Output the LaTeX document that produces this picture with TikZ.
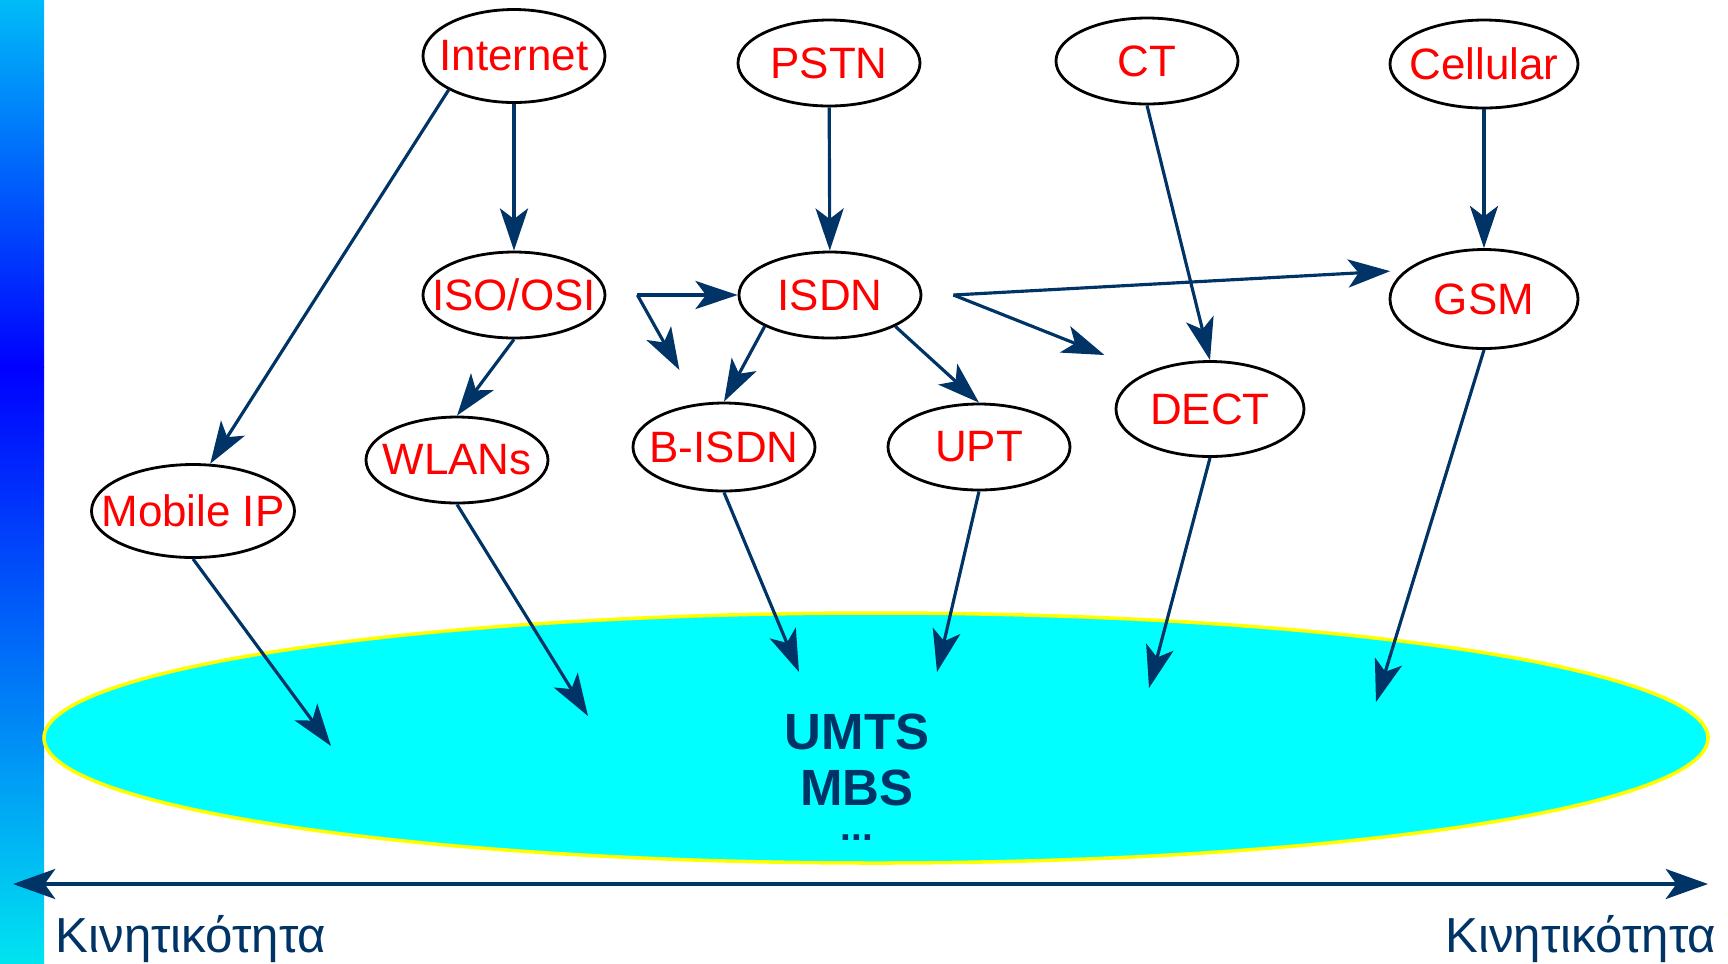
\documentclass[tikz,border=0pt]{standalone}
\usepackage{fontspec}
\setmainfont{Liberation Sans}
\usepackage{tikz}
\usetikzlibrary{arrows.meta}
\usetikzlibrary{positioning}
\usetikzlibrary{shapes.geometric}
\definecolor{navy}{RGB}{0,51,102}
\definecolor{bartop}{RGB}{0,188,248}
\definecolor{barbottom}{RGB}{0,228,240}
\definecolor{umtscyan}{RGB}{0,255,255}
\definecolor{umtsrim}{RGB}{255,255,0}
\tikzstyle{every node}+=[inner sep=0pt]
\tikzstyle{tech} = [ellipse, draw, thick, text=red, font=\fontsize{12.5}{14}\selectfont, inner xsep=-0.3cm, minimum width=1.82cm, minimum height=0.86cm]
\tikzstyle{line} = [draw, navy, line width=0.9pt, -{Stealth[length=12pt, width=8pt, inset=3pt]}]
\tikzstyle{umtstext} = [navy, align=center, font=\fontsize{14.5}{16}\selectfont\bfseries]
\tikzstyle{mobility} = [navy, font=\fontsize{14}{16}\selectfont]

\begin{document}
\begin{tikzpicture}
            \useasboundingbox (0,0) rectangle (17.28,-9.63);
            % Background bar and UMTS area
            \shade [top color=bartop, bottom color=blue] (0,0) rectangle (0.44,-3.67);
            \shade [top color=blue, bottom color=barbottom] (0,-3.67) rectangle (0.44,-9.63);
            \node [ellipse, draw=umtsrim, line width=1pt, fill=umtscyan, minimum width=16.64cm, minimum height=2.5cm] (umts) at (8.76,-7.38) {};
            \node [umtstext, anchor=north] (umtslbl) at (8.57,-7.13) {UMTS\\MBS\\[-6pt]{\fontsize{11}{12}\selectfont ...}};
            % Place nodes
            \node [tech, minimum height=0.93cm] (internet) at (5.14,-0.56) {Internet};
            \node [tech, right of=internet, node distance=3.15cm, yshift=-0.07cm] (pstn) {PSTN};
            \node [tech, right of=pstn, node distance=3.18cm, yshift=0.02cm] (ct) {CT};
            \node [tech, right of=ct, node distance=3.37cm, yshift=-0.03cm, minimum width=1.88cm, minimum height=0.88cm] (cellular) {Cellular};
            \node [tech, below of=internet, node distance=2.39cm] (isoosi) {ISO/OSI};
            \node [tech, right of=isoosi, node distance=3.16cm] (isdn) {ISDN};
            \node [tech, below of=cellular, node distance=2.35cm, minimum width=1.88cm, minimum height=0.99cm] (gsm) {GSM};
            \node [tech, below of=isoosi, node distance=1.65cm, xshift=-0.57cm] (wlans) {WLANs};
            \node [tech, left of=wlans, node distance=2.64cm, yshift=-0.51cm, minimum width=2.03cm, minimum height=0.93cm] (mobileip) {Mobile IP};
            \node [tech, below of=isdn, node distance=1.52cm, xshift=-1.06cm, minimum height=0.88cm] (bisdn) {B-ISDN};
            \node [tech, right of=bisdn, node distance=2.55cm] (upt) {UPT};
            \node [tech, below of=ct, node distance=3.48cm, xshift=0.63cm, minimum width=1.88cm, minimum height=0.95cm] (dect) {DECT};
            % Forks and free ends
            \coordinate [right=0.31cm of isoosi] (fork1);
            \coordinate [below right=0.75cm and 0.42cm of fork1] (tip1);
            \coordinate [right=0.31cm of isdn] (fork2);
            \coordinate [below right=0.6cm and 1.51cm of fork2] (tip2);
            \coordinate (m1) at (3.31,-7.46);
            \coordinate (m2) at (5.88,-7.16);
            \coordinate (m3) at (7.99,-6.72);
            \coordinate (m4) at (9.37,-6.72);
            \coordinate (m5) at (11.49,-6.88);
            \coordinate (m6) at (13.76,-7.02);
            % Draw edges
            \path [line] (internet) -- (isoosi);
            \path [line] (internet.south west) -- (mobileip.70);
            \path [line] (pstn) -- (isdn);
            \path [line] (fork1) -- (isdn);
            \path [line] (fork1) -- (tip1);
            \path [line] (isoosi.south) -- (wlans.north);
            \path [line] (isdn.south west) -- (bisdn.north);
            \path [line] (isdn.south east) -- (upt.north);
            \path [line, shorten >=1.5mm] (fork2) -- (gsm.160);
            \path [line] (fork2) -- (tip2);
            \path [line] (ct.south) -- (dect.north);
            \path [line] (cellular) -- (gsm);
            \path [line] (mobileip.south) -- (m1);
            \path [line] (wlans.south) -- (m2);
            \path [line] (bisdn.south) -- (m3);
            \path [line] (upt.south) -- (m4);
            \path [line] (dect.south) -- (m5);
            \path [line] (gsm.south) -- (m6);
            % Mobility axis
            \coordinate (axisl) at (0.13,-8.84);
            \coordinate (axisr) at (17.08,-8.84);
            \draw [navy, line width=1.3pt, {Stealth[length=12pt, width=8.5pt, inset=3pt]}-{Stealth[length=12pt, width=8.5pt, inset=3pt]}] (axisl) -- (axisr);
            \node [mobility, anchor=base west] (mobl) at (0.55,-9.52) {Κινητικότητα};
            \node [mobility, anchor=base east] (mobr) at (17.17,-9.52) {Κινητικότητα};
          \end{tikzpicture}
\end{document}
